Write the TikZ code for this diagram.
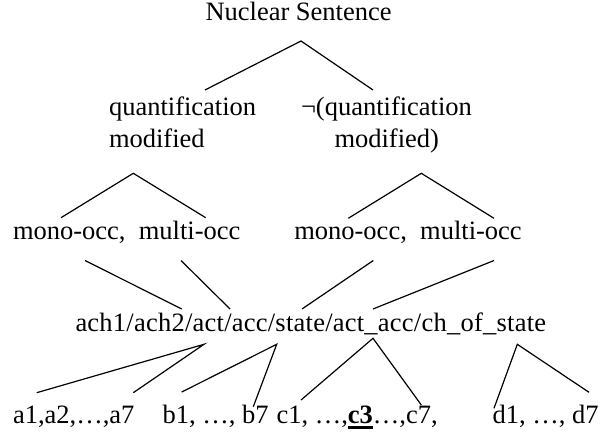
\documentclass[tikz,border=0pt]{standalone}
\usepackage{fontspec}
\setmainfont{Liberation Serif}
\begin{document}
\begin{tikzpicture}[x=1pt,y=-1pt,
  txt/.style={inner sep=0pt, outer sep=0pt, anchor=base west, font=\fontsize{26.5}{31}\selectfont},
  edge/.style={line width=1.2pt, line cap=butt}]
\useasboundingbox (0,0) rectangle (608,433);
% texts
\node[txt] (ns)  at (205.5,20.7) {Nuclear Sentence};
\node[txt] (q1a) at (109,116) {quantification};
\node[txt] (q1b) at (109,147.3) {modified};
\node[txt] (q2a) at (301,116) {¬(quantification};
\node[txt] (q2b) at (334.5,147.3) {modified)};
\node[txt] (m1)  at (13,239) {mono-occ,\ \ multi-occ};
\node[txt] (m2)  at (294.3,239) {mono-occ,\ \ multi-occ};
\node[txt] (ach) at (75.5,331) {\addfontfeature{LetterSpace=0.9}ach1/ach2/act/acc/state/act\_acc/ch\_of\_state};
\node[txt] (ta)  at (13,423) {a1,a2,…,a7};
\node[txt] (tb)  at (162.5,423) {b1, …, b7};
\node[txt] (tc)  at (276.5,423) {c1, …,{\setbox0\hbox{\textbf{c3}}\rlap{\rule[-5.5pt]{\wd0}{2.4pt}}\box0}…,c7,};
\node[txt] (td)  at (492.5,423) {d1, …, d7};
% connector end points
\coordinate (nsB) at (301,41);
\coordinate (q1T) at (205,90);   \coordinate (q2T) at (373,90);
\coordinate (q1B) at (133.3,173.3);
\coordinate (m1L) at (61,217.7); \coordinate (m1R) at (205.7,217.7);
\coordinate (q2B) at (421.3,173.3);
\coordinate (m2L) at (348.3,218.3); \coordinate (m2R) at (494,218.3);
\coordinate (m1a) at (85,260.5);   \coordinate (m1b) at (181,260.5);
\coordinate (m2a) at (373.3,260.5); \coordinate (m2b) at (494,260.5);
\coordinate (achA) at (181.7,309); \coordinate (achB) at (230,309);
\coordinate (achC) at (302,309);   \coordinate (achD) at (373,309);
\coordinate (apA) at (204,344.3);  \coordinate (apB) at (276.7,344.3);
\coordinate (apC) at (373,338.3);  \coordinate (apD) at (517.3,344.3);
\coordinate (a1) at (36.7,392.7);  \coordinate (a2) at (133.3,392.7);
\coordinate (b1) at (181.7,392);   \coordinate (b2) at (253.3,406.7);
\coordinate (c1) at (301,400);     \coordinate (c2) at (421.3,405);
\coordinate (d1) at (494,408.3);   \coordinate (d2) at (589,392.3);
% connectors
\draw[edge] (q1T) -- (nsB) -- (q2T);
\draw[edge] (m1L) -- (q1B) -- (m1R);
\draw[edge] (m2L) -- (q2B) -- (m2R);
\draw[edge] (m1a) -- (achA);
\draw[edge] (m1b) -- (achB);
\draw[edge] (m2a) -- (achC);
\draw[edge] (m2b) -- (achD);
\draw[edge] (a1) -- (apA) -- (a2);
\draw[edge] (b1) -- (apB) -- (b2);
\draw[edge] (c1) -- (apC) -- (c2);
\draw[edge] (d1) -- (apD) -- (d2);
\end{tikzpicture}
\end{document}
